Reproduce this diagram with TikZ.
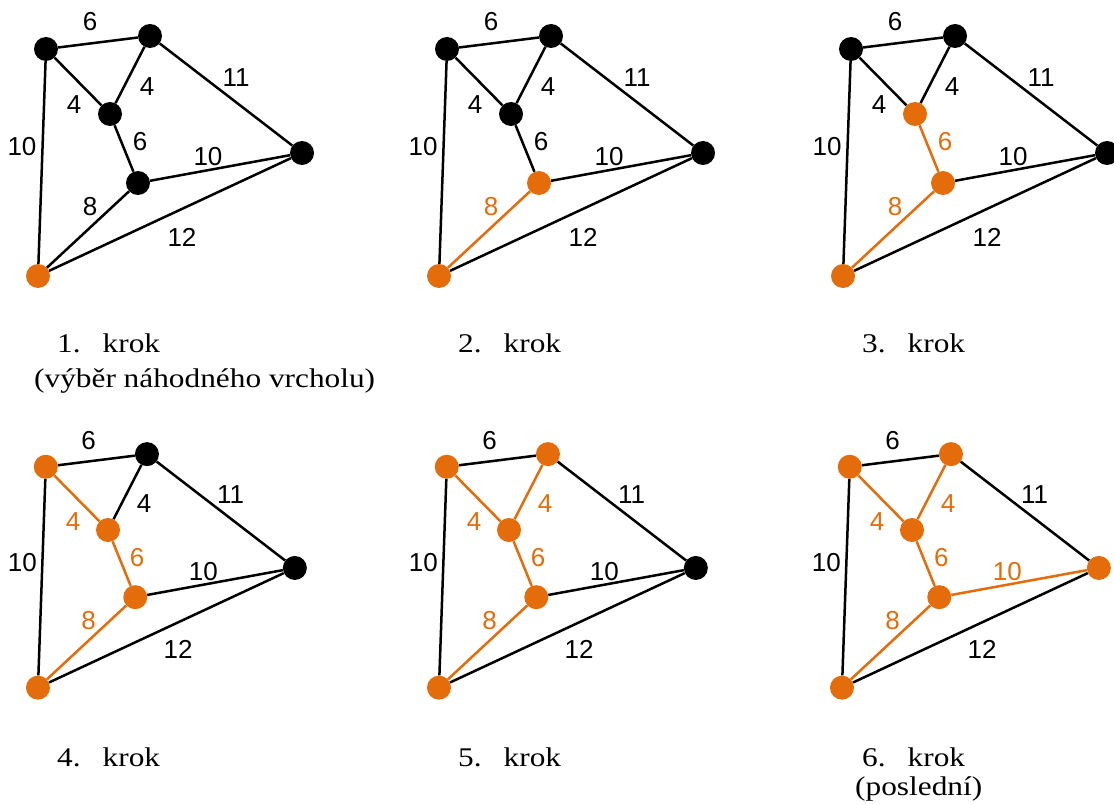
\documentclass[tikz,border=0pt]{standalone}
\usepackage{fontspec}
\setmainfont{Liberation Serif}
\newfontfamily\capfont[FakeStretch=1.16]{Liberation Serif}
\newfontfamily\lblfont{Liberation Sans}
\definecolor{org}{RGB}{228,108,10}
\definecolor{blk}{RGB}{0,0,0}
\tikzset{
  vtx/.style={circle,inner sep=0pt,minimum size=24pt,draw=none},
  edge/.style={line width=2.5pt},
  lbl/.style={inner sep=0pt,font=\lblfont\fontsize{26}{26}\selectfont},
  steptxt/.style={anchor=base west,inner sep=0pt,font=\capfont\fontsize{27}{30}\selectfont}
}
% graph drawing macro; colours taken from \cA..\cF (vertices) and \eXY (edges)
\newcommand\drawgraph[1]{%
  \node[vtx,fill=\cA] (#1A) at (46,49) {};
  \node[vtx,fill=\cB] (#1B) at (150,36) {};
  \node[vtx,fill=\cC] (#1C) at (110,114) {};
  \node[vtx,fill=\cD] (#1D) at (302,153) {};
  \node[vtx,fill=\cE] (#1E) at (138,183) {};
  \node[vtx,fill=\cF] (#1F) at (38,276) {};
  \draw[edge,draw=\eAB] (#1A) -- (#1B);
  \draw[edge,draw=\eAC] (#1A) -- (#1C);
  \draw[edge,draw=\eBC] (#1B) -- (#1C);
  \draw[edge,draw=\eBD] (#1B) -- (#1D);
  \draw[edge,draw=\eAF] (#1A) -- (#1F);
  \draw[edge,draw=\eCE] (#1C) -- (#1E);
  \draw[edge,draw=\eED] (#1E) -- (#1D);
  \draw[edge,draw=\eEF] (#1E) -- (#1F);
  \draw[edge,draw=\eFD] (#1F) -- (#1D);
  \node[lbl,text=\eAB] (#1lAB) at (90,22) {6};
  \node[lbl,text=\eAC] (#1lAC) at (74,105) {4};
  \node[lbl,text=\eBC] (#1lBC) at (147,87) {4};
  \node[lbl,text=\eBD] (#1lBD) at (236,78) {11};
  \node[lbl,text=\eAF] (#1lAF) at (22,147) {10};
  \node[lbl,text=\eCE] (#1lCE) at (140,142) {6};
  \node[lbl,text=\eED] (#1lED) at (208,157) {10};
  \node[lbl,text=\eEF] (#1lEF) at (90,207) {8};
  \node[lbl,text=\eFD] (#1lFD) at (182,237) {12};
}
\newcommand\allblack{%
  \def\cA{blk}\def\cB{blk}\def\cC{blk}\def\cD{blk}\def\cE{blk}\def\cF{blk}%
  \def\eAB{blk}\def\eAC{blk}\def\eBC{blk}\def\eBD{blk}\def\eAF{blk}%
  \def\eCE{blk}\def\eED{blk}\def\eEF{blk}\def\eFD{blk}}
\begin{document}
\begin{tikzpicture}[x=1pt,y=-1pt]
\useasboundingbox (0,0) rectangle (1114,805);
% panel 1
\begin{scope}
  \allblack\def\cF{org}
  \drawgraph{p1}
\end{scope}
% panel 2
\begin{scope}[shift={(401,0)}]
  \allblack\def\cF{org}\def\cE{org}\def\eEF{org}
  \drawgraph{p2}
\end{scope}
% panel 3
\begin{scope}[shift={(805,0)}]
  \allblack\def\cF{org}\def\cE{org}\def\cC{org}\def\eEF{org}\def\eCE{org}
  \drawgraph{p3}
\end{scope}
% panel 4
\begin{scope}[shift={(1,419.1)},scale=0.973]
  \allblack\def\cF{org}\def\cE{org}\def\cC{org}\def\cA{org}
  \def\eEF{org}\def\eCE{org}\def\eAC{org}
  \drawgraph{p4}
\end{scope}
% panel 5
\begin{scope}[shift={(402,419.1)},scale=0.973]
  \allblack\def\cF{org}\def\cE{org}\def\cC{org}\def\cA{org}\def\cB{org}
  \def\eEF{org}\def\eCE{org}\def\eAC{org}\def\eBC{org}
  \drawgraph{p5}
\end{scope}
% panel 6
\begin{scope}[shift={(805,419.1)},scale=0.973]
  \allblack\def\cF{org}\def\cE{org}\def\cC{org}\def\cA{org}\def\cB{org}\def\cD{org}
  \def\eEF{org}\def\eCE{org}\def\eAC{org}\def\eBC{org}\def\eED{org}
  \drawgraph{p6}
\end{scope}
% step captions
\node[steptxt] (s1) at (57,352) {1.\hspace{22pt}krok};
\node[steptxt] (s1b) at (34,387) {(výběr náhodného vrcholu)};
\node[steptxt] (s2) at (458,352) {2.\hspace{22pt}krok};
\node[steptxt] (s3) at (862,352) {3.\hspace{22pt}krok};
\node[steptxt] (s4) at (57,766) {4.\hspace{22pt}krok};
\node[steptxt] (s5) at (458,766) {5.\hspace{22pt}krok};
\node[steptxt] (s6) at (862,766) {6.\hspace{22pt}krok};
\node[steptxt] (s6b) at (855,795) {(poslední)};
\end{tikzpicture}
\end{document}
